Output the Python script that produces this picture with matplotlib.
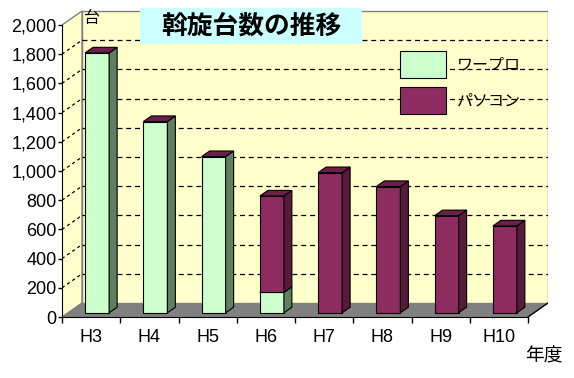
import numpy as np
import matplotlib
matplotlib.use("Agg")
from matplotlib import pyplot as plt
from matplotlib.patches import Polygon, Rectangle, Patch

# data
years = ["H3", "H4", "H5", "H6", "H7", "H8", "H9", "H10"]
wapuro = [1780, 1310, 1070, 140, 0, 0, 0, 0]
pasokon = [0, 0, 0, 660, 960, 865, 665, 595]
series_names = ["ワープロ", "パソコン"]
yticks = list(range(0, 2001, 200))

# colours
front_col = ["#CCFFCC", "#8E2B60"]
side_col = ["#5F7F5F", "#571A3A"]
top_col = ["#6B1F4B", "#6B1F4B"]
wall_col = "#FFFFCC"
floor_col = "#808080"

plt.rcParams['font.family'] = ['Liberation Sans', 'Noto Sans CJK JP', 'DejaVu Sans']
jp = ['Noto Sans CJK JP', 'DejaVu Sans']

W, H = 574, 378
fig = plt.figure(figsize=(W / 100, H / 100), dpi=100)
fig.patch.set_facecolor("white")

# axes spans the front axis (x=62) to the back wall right edge (x=548)
ax = fig.add_axes([62 / W, 1 - 317 / H, 486 / W, 307 / H])
ax.set_facecolor("none")

n = len(years)
ytop = 307 / 0.146
ax.set_ylim(0, ytop)
ax.set_xlim(-0.5, -0.5 + 486 / 58.25)

# depth of the 3d box in data units
DX = 20 / 58.25
DY = 14 / 0.146
x_lo, x_hi = -0.5, n - 0.5
vmax = yticks[-1]

# walls and floor
ax.add_patch(Polygon([(x_lo + DX, DY), (x_hi + DX, DY), (x_hi + DX, vmax + DY), (x_lo + DX, vmax + DY)],
                     closed=True, facecolor=wall_col, edgecolor="#808080", lw=1, zorder=0))
ax.add_patch(Polygon([(x_lo, 0), (x_lo + DX, DY), (x_lo + DX, vmax + DY), (x_lo, vmax)],
                     closed=True, facecolor=wall_col, edgecolor="#808080", lw=1, zorder=0))
ax.add_patch(Polygon([(x_lo, 0), (x_hi, 0), (x_hi + DX, DY), (x_lo + DX, DY)],
                     closed=True, facecolor=floor_col, edgecolor="none", zorder=0.5, clip_on=False))
ax.plot([x_hi, x_hi + DX], [0, DY], color="black", lw=1, zorder=0.6)

# grid lines on the walls
for v in yticks[1:-1]:
    ax.plot([x_lo + DX, x_hi + DX], [v + DY, v + DY], color="black", lw=0.9,
            ls=(0, (4, 3)), zorder=0.3)
    ax.plot([x_lo, x_lo + DX], [v, v + DY], color="black", lw=0.9,
            ls=(0, (2.5, 2.5)), zorder=0.3)

# 3d bars
f0, f1 = 0.3, 0.7
bw = 24 / 58.25
ddx, ddy = (f1 - f0) * DX, (f1 - f0) * DY
xs = np.arange(n)
bottoms = np.zeros(n)
for s, vals in enumerate([wapuro, pasokon]):
    vals = np.array(vals, dtype=float)
    for i in range(n):
        h = vals[i]
        if h <= 0:
            continue
        x0 = xs[i] - bw / 2 + f0 * DX
        x1 = x0 + bw
        y0 = bottoms[i] + f0 * DY
        y1 = y0 + h
        ax.bar(xs[i] + f0 * DX, h, width=bw, bottom=y0, color=front_col[s],
               edgecolor="black", lw=0.8, zorder=2 + s)
        ax.add_patch(Polygon([(x1, y0), (x1 + ddx, y0 + ddy), (x1 + ddx, y1 + ddy), (x1, y1)],
                             closed=True, facecolor=side_col[s], edgecolor="black", lw=0.8, zorder=2 + s))
        ax.add_patch(Polygon([(x0, y1), (x1, y1), (x1 + ddx, y1 + ddy), (x0 + ddx, y1 + ddy)],
                             closed=True, facecolor=top_col[s], edgecolor="black", lw=0.8, zorder=2 + s))
    bottoms += vals

# axes and ticks
for sp in ["top", "right"]:
    ax.spines[sp].set_visible(False)
ax.spines["left"].set_bounds(0, vmax)
ax.spines["bottom"].set_bounds(x_lo, x_hi)
ax.spines["left"].set_zorder(5)
ax.spines["bottom"].set_zorder(5)

ax.set_yticks(yticks)
ax.set_yticklabels([f"{v:,}" for v in yticks])
ax.tick_params(axis="y", length=3, pad=1, labelsize=13, width=1)

ax.set_xticks(np.arange(n + 1) - 0.5)
ax.set_xticklabels([])
ax.set_xticks(xs, minor=True)
ax.set_xticklabels(years, minor=True)
ax.tick_params(axis="x", which="major", length=4, direction="out", width=1)
ax.tick_params(axis="x", which="minor", length=0, pad=9, labelsize=13)

# legend
handles = [Patch(facecolor=front_col[k], edgecolor="black", lw=0.8) for k in range(2)]
leg = ax.legend(handles, series_names, loc="upper left", bbox_to_anchor=(400 / W, 1 - 51 / H),
                bbox_transform=fig.transFigure, frameon=False, borderpad=0, borderaxespad=0,
                handlelength=2.9, handleheight=2.2, handletextpad=0.65, labelspacing=0.6,
                prop={"family": jp, "size": 11.5})
leg.set_zorder(6)

# title box
fig.patches.append(Rectangle((140 / W, 1 - 44 / H), 222 / W, 36 / H, transform=fig.transFigure,
                             facecolor="#CCFFFF", edgecolor="none", zorder=10))
fig.text(251 / W, 1 - 26 / H, "斡旋台数の推移", ha="center", va="center", fontsize=18.5,
         fontweight="bold", family=jp, zorder=11)

# unit labels
fig.text(84 / W, 1 - 10 / H, "台", ha="left", va="top", fontsize=11.5, family=jp, zorder=11)
fig.text(544 / W, 1 - 356 / H, "年度", ha="center", va="center", fontsize=13.5, family=jp)

fig.savefig("out.png", dpi=100)
